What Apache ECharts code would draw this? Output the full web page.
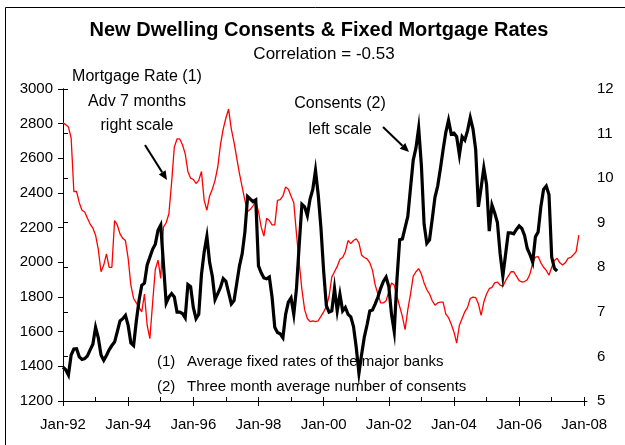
<!DOCTYPE html>
<html>
<head>
<meta charset="utf-8">
<script src="https://cdn.jsdelivr.net/npm/echarts@6/dist/echarts.min.js"></script>
<style>
html,body{margin:0;padding:0;background:#fff;}
#c{width:625px;height:445px;}
</style>
</head>
<body>
<div id="c"></div>
<script>
// Month index 0 = Jan-92
const xTickLabels = ['Jan-92','Jan-94','Jan-96','Jan-98','Jan-00','Jan-02','Jan-04','Jan-06','Jan-08'];

// Consents (2) - three month average number of consents, left scale, monthly from Jan-92
const consents = [
1395,1380,1350,1465,1500,1502,1455,1440,1445,1460,1495,1528,
1625,1565,1465,1435,1463,1495,1520,1540,1600,1662,1675,1694,
1636,1535,1520,1660,1780,1867,1880,1985,2030,2075,2105,2185,
2215,1990,1765,1800,1820,1800,1713,1713,1705,1680,1872,1860,
1740,1675,1700,1930,2060,2150,2000,1920,1785,1820,1855,1906,
1890,1825,1760,1780,1880,1980,2050,2176,2380,2365,2350,2360,
1980,1940,1910,1905,1915,1800,1625,1595,1588,1565,1700,1770,
1795,1700,1850,2100,2335,2320,2270,2365,2420,2530,2390,2200,
1950,1750,1713,1720,1850,1720,1815,1720,1740,1700,1685,1630,
1510,1360,1470,1570,1640,1720,1725,1760,1800,1850,1890,1915,
1860,1700,1600,1900,2130,2135,2200,2265,2430,2590,2660,2775,
2560,2220,2110,2130,2250,2375,2440,2540,2650,2750,2820,2740,
2745,2725,2620,2725,2705,2760,2835,2770,2650,2320,2430,2545,
2450,2180,2330,2285,2230,2050,1920,2045,2170,2170,2165,2190,
2210,2195,2155,2080,2045,2000,2147,2175,2320,2420,2440,2390,
2030,1965,1950
];

// Mortgage rate (1) - average fixed rate, advanced 7 months, right scale, monthly from Jan-92
const mortgageRate = [
11.24,11.2,11.15,10.9,9.7,9.7,9.45,9.28,9.24,9.1,8.97,8.88,
8.72,8.4,7.9,8.05,8.3,8.0,8.0,9.05,8.95,8.75,8.65,8.6,
8.2,7.6,7.3,7.2,7.1,7.0,7.4,6.7,6.4,7.2,7.95,8.16,
7.75,8.9,9.0,9.2,9.9,10.7,10.88,10.88,10.75,10.55,10.15,10.0,
9.97,9.88,9.95,10.15,9.5,9.28,9.6,9.75,9.95,10.25,10.75,11.1,
11.35,11.55,11.1,10.8,10.45,10.1,9.8,9.5,9.25,9.3,9.38,9.48,
9.25,8.9,8.7,9.1,9.05,8.95,8.95,9.5,9.52,9.6,9.8,9.75,
9.6,9.45,8.75,8.1,7.5,7.05,6.85,6.78,6.8,6.78,6.8,6.9,
7.0,7.12,7.35,7.78,7.9,8.02,8.18,8.22,8.35,8.6,8.53,8.6,
8.64,8.55,8.27,8.22,8.19,8.1,7.93,7.6,7.4,7.2,7.2,7.25,
7.45,7.65,7.6,7.35,7.12,6.9,6.6,7.05,7.4,7.8,7.9,7.97,
7.85,7.65,7.5,7.4,7.25,7.15,7.2,7.22,7.22,6.95,6.87,6.72,
6.55,6.3,6.7,6.85,7.0,7.1,7.3,7.33,7.32,7.18,6.92,7.22,
7.4,7.52,7.55,7.65,7.67,7.6,7.57,7.7,7.8,7.9,7.9,7.8,
7.7,7.67,7.68,7.72,7.85,8.1,8.23,8.24,8.1,8.0,7.93,7.82,
8.0,8.15,8.2,8.1,8.05,8.1,8.2,8.22,8.28,8.35,8.72
];

const FONT = '"Liberation Sans", Arial, sans-serif';
const majorTicks = xTickLabels.map((_, i) => i * 24);
const yearTicks = [];
for (let i = 0; i <= 16; i++) yearTicks.push(i * 12);

const chart = echarts.init(document.getElementById('c'), null, {renderer: 'canvas'});

function arrow(x1, y1, x2, y2) {
  const dx = x2 - x1, dy = y2 - y1, len = Math.sqrt(dx*dx + dy*dy);
  const ux = dx/len, uy = dy/len, hl = 9, hw = 4;
  const bx = x2 - ux*hl, by = y2 - uy*hl;
  return [
    {type:'line', shape:{x1:x1, y1:y1, x2:bx, y2:by}, style:{stroke:'#000', lineWidth:2}, z:10},
    {type:'polygon', shape:{points:[[x2,y2],[bx - uy*hw, by + ux*hw],[bx + uy*hw, by - ux*hw]]}, style:{fill:'#000'}, z:10}
  ];
}

function txt(x, y, s, opts) {
  return {
    type:'text', x:x, y:y, z:1,
    style:Object.assign({text:s, fill:'#000', font:'16px ' + FONT, textAlign:'center', textVerticalAlign:'middle'}, opts || {})
  };
}

const axisFont = {color: '#000', fontSize: 15, fontFamily: FONT};

const option = {
  animation: false,
  backgroundColor: '#fff',
  grid: {left: 63, right: 38, top: 89, bottom: 44, containLabel: false},
  xAxis: [{
    type: 'value', min: 0, max: 193, interval: 24,
    axisLine: {show: true, lineStyle: {color: '#000', width: 1}},
    axisTick: {show: true, length: 5, lineStyle: {color: '#000'}, customValues: majorTicks},
    axisLabel: Object.assign({margin: 16, customValues: majorTicks,
      formatter: v => (v % 24 === 0 && xTickLabels[v/24]) ? xTickLabels[v/24] : ''}, axisFont),
    splitLine: {show: false}
  }, {
    type: 'value', min: 0, max: 193, position: 'bottom', offset: 0,
    axisLine: {show: false},
    axisTick: {show: true, inside: true, length: 4, lineStyle: {color: '#000'}, customValues: yearTicks},
    axisLabel: {show: false},
    splitLine: {show: false}
  }],
  yAxis: [{
    type: 'value', min: 1200, max: 3000, interval: 200, position: 'left',
    axisLine: {show: true, lineStyle: {color: '#000'}},
    axisTick: {show: true, length: 5, lineStyle: {color: '#000'}},
    axisLabel: Object.assign({margin: 10, formatter: v => String(v)}, axisFont),
    splitLine: {show: false}
  }, {
    type: 'value', min: 5, max: 12, interval: 1, position: 'right',
    axisLine: {show: true, lineStyle: {color: '#000'}},
    axisTick: {show: true, length: 5, lineStyle: {color: '#000'}},
    axisLabel: Object.assign({margin: 10, formatter: v => String(v)}, axisFont),
    splitLine: {show: false}
  }],
  series: [{
    name: 'Mortgage Rate (1)', type: 'line', yAxisIndex: 1, xAxisIndex: 0,
    data: mortgageRate.map((v, i) => [i, v]),
    showSymbol: false, symbol: 'none',
    lineStyle: {color: '#ff0000', width: 1.3}, z: 3
  }, {
    name: 'Consents (2)', type: 'line', yAxisIndex: 0, xAxisIndex: 0,
    data: consents.map((v, i) => [i, v]),
    showSymbol: false, symbol: 'none',
    lineStyle: {color: '#000', width: 3.2, join: 'miter'}, z: 4
  }],
  graphic: [
    {type:'rect', shape:{x:5.5, y:7.5, width:700, height:600}, style:{fill:'none', stroke:'#000', lineWidth:1}, z:0},
    txt(319, 30, 'New Dwelling Consents & Fixed Mortgage Rates', {font:'bold 20px ' + FONT}),
    txt(324, 54, 'Correlation = -0.53', {font:'17px ' + FONT}),
    txt(137, 77, 'Mortgage Rate (1)'),
    txt(137, 102, 'Adv 7 months'),
    txt(137, 126, 'right scale'),
    txt(340, 104, 'Consents (2)'),
    txt(340, 130, 'left scale'),
    txt(157, 362, '(1)', {textAlign:'left', font:'15px ' + FONT}),
    txt(187, 362, 'Average fixed rates of the major banks', {textAlign:'left', font:'15px ' + FONT}),
    txt(157, 387, '(2)', {textAlign:'left', font:'15px ' + FONT}),
    txt(187, 387, 'Three month average number of consents', {textAlign:'left', font:'15px ' + FONT})
  ].concat(arrow(145, 145, 167, 180)).concat(arrow(383, 127, 409, 152))
};

chart.setOption(option);
</script>
</body>
</html>
